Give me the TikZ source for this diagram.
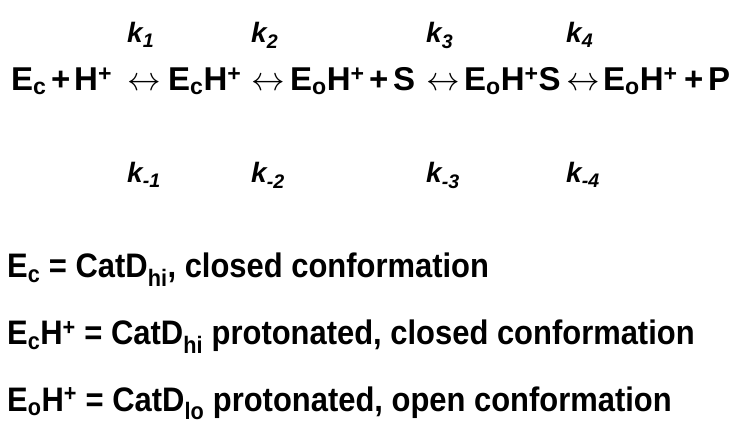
\documentclass[tikz,border=0pt]{standalone}
\usepackage{fontspec}
\setmainfont{Liberation Sans}
\newfontfamily\narrowsans{Liberation Sans}[FakeStretch=0.91]
\usepackage{tikz}
\usetikzlibrary{positioning}

\newcommand{\eqarrow}{\scalebox{1.35}{$\leftrightarrow$}}

\tikzset{
  species/.style={anchor=base west, inner sep=0pt, font=\fontsize{33}{39}\selectfont\bfseries},
  rate/.style={anchor=base west, inner sep=0pt, font=\fontsize{28}{34}\selectfont\bfseries\itshape},
  legend/.style={anchor=base west, inner sep=0pt, font=\narrowsans\fontsize{34}{40}\selectfont\bfseries},
}

\begin{document}
\begin{tikzpicture}[x=1pt,y=-1pt]
	\useasboundingbox (0,0) rectangle (750,438);
	% reaction scheme
	\node[species] (ec) at (11,91) {E\textsubscript{c}};
	\node[species] (plus1) at (51,91) {+};
	\node[species] (h) at (74,91) {H\textsuperscript{+}};
	\node[species] (arr1) at (127,91) {\eqarrow};
	\node[species] (ech) at (168,91) {E\textsubscript{c}H\textsuperscript{+}};
	\node[species] (arr2) at (251,91) {\eqarrow};
	\node[species] (eoh) at (290,91) {E\textsubscript{o}H\textsuperscript{+}};
	\node[species] (plus2) at (369,91) {+};
	\node[species] (s) at (393,91) {S};
	\node[species] (arr3) at (426,91) {\eqarrow};
	\node[species] (eohs) at (464,91) {E\textsubscript{o}H\textsuperscript{+}S};
	\node[species] (arr4) at (566,91) {\eqarrow};
	\node[species] (eohb) at (603,91) {E\textsubscript{o}H\textsuperscript{+}};
	\node[species] (plus3) at (684,91) {+};
	\node[species] (p) at (708,91) {P};
	% rate constants
	\coordinate (fwd) at (0,43);
	\coordinate (bwd) at (0,183);
	\node[rate] (k1) at (arr1.west |- fwd) {k\textsubscript{1}};
	\node[rate] (k2) at (arr2.west |- fwd) {k\textsubscript{2}};
	\node[rate] (k3) at (arr3.west |- fwd) {k\textsubscript{3}};
	\node[rate] (k4) at (arr4.west |- fwd) {k\textsubscript{4}};
	\node[rate] (km1) at (arr1.west |- bwd) {k\textsubscript{-1}};
	\node[rate] (km2) at (arr2.west |- bwd) {k\textsubscript{-2}};
	\node[rate] (km3) at (arr3.west |- bwd) {k\textsubscript{-3}};
	\node[rate] (km4) at (arr4.west |- bwd) {k\textsubscript{-4}};
	% definitions
	\node[legend] (def1) at (7,278) {E\textsubscript{c} = CatD\textsubscript{hi}, closed conformation};
	\node[legend] (def2) at (7,345) {E\textsubscript{c}H\textsuperscript{+} = CatD\textsubscript{hi} protonated, closed conformation};
	\node[legend] (def3) at (7,411) {E\textsubscript{o}H\textsuperscript{+} = CatD\textsubscript{lo} protonated, open conformation};
\end{tikzpicture}
\end{document}
